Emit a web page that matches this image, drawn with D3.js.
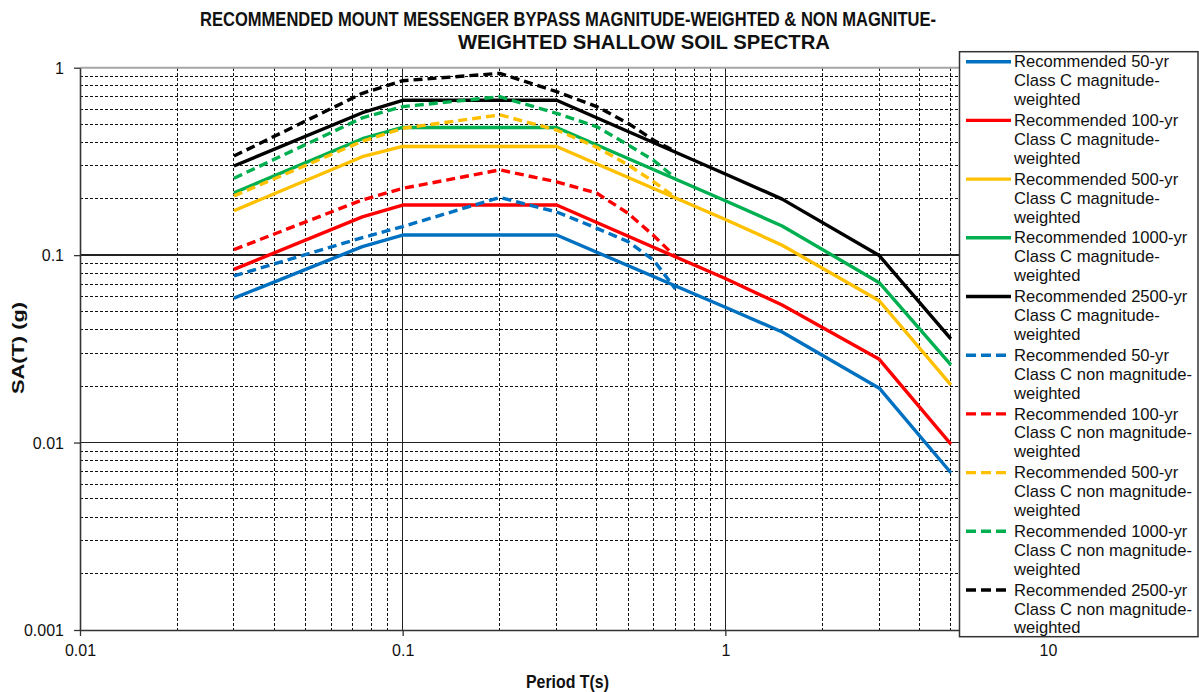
<!DOCTYPE html>
<html>
<head>
<meta charset="utf-8">
<script src="https://cdn.jsdelivr.net/npm/d3@7/dist/d3.min.js"></script>
<style>
  html, body { margin: 0; padding: 0; background: #fff; }
  svg { display: block; font-family: "Liberation Sans", Arial, sans-serif; }
</style>
</head>
<body>
<svg id="chart" width="1199" height="692"></svg>
<script>
// ---------- DATA ----------
const titleLines = ["RECOMMENDED MOUNT MESSENGER BYPASS MAGNITUDE-WEIGHTED & NON MAGNITUE-",
                    "WEIGHTED SHALLOW SOIL SPECTRA"];
const xAxisTitle = "Period T(s)";
const yAxisTitle = "SA(T)  (g)";

const xTickValues = [0.01, 0.1, 1, 10];
const xTickLabels = ["0.01", "0.1", "1", "10"];
const yTickValues = [0.001, 0.01, 0.1, 1];
const yTickLabels = ["0.001", "0.01", "0.1", "1"];

// magnitude-weighted (solid)
const periodsMW = [0.03, 0.075, 0.1, 0.3, 1, 1.5, 3, 5];
const mw50   = [0.059, 0.111, 0.128, 0.128, 0.0527, 0.0389, 0.0195, 0.0069];
const mw100  = [0.084, 0.160, 0.185, 0.185, 0.075, 0.0542, 0.0278, 0.0098];
const mw500  = [0.1726, 0.335, 0.38, 0.38, 0.155, 0.113, 0.0571, 0.0203];
const mw1000 = [0.215, 0.418, 0.48, 0.48, 0.195, 0.143, 0.0713, 0.026];
const mw2500 = [0.299, 0.575, 0.67, 0.67, 0.271, 0.199, 0.0995, 0.0357];

// non magnitude-weighted (dashed)
const periodsNMW = [0.03, 0.075, 0.1, 0.2, 0.3, 0.4, 0.5, 0.6, 0.7];
const nmw50   = [0.0774, 0.124, 0.142, 0.203, 0.17, 0.139, 0.118, 0.094, 0.066];
const nmw100  = [0.107, 0.197, 0.227, 0.285, 0.246, 0.214, 0.167, 0.127, 0.098];
const nmw500  = [0.207, 0.405, 0.475, 0.56, 0.465, 0.376, 0.303, 0.246, 0.203];
const nmw1000 = [0.257, 0.54, 0.62, 0.70, 0.571, 0.484, 0.387, 0.32, 0.258];
const nmw2500 = [0.338, 0.73, 0.852, 0.933, 0.745, 0.62, 0.505, 0.41, 0.357];

const seriesNames = [
  ["Recommended 50-yr", "Class C magnitude-", "weighted"],
  ["Recommended 100-yr", "Class C magnitude-", "weighted"],
  ["Recommended 500-yr", "Class C magnitude-", "weighted"],
  ["Recommended 1000-yr", "Class C magnitude-", "weighted"],
  ["Recommended 2500-yr", "Class C magnitude-", "weighted"],
  ["Recommended 50-yr", "Class C non magnitude-", "weighted"],
  ["Recommended 100-yr", "Class C non magnitude-", "weighted"],
  ["Recommended 500-yr", "Class C non magnitude-", "weighted"],
  ["Recommended 1000-yr", "Class C non magnitude-", "weighted"],
  ["Recommended 2500-yr", "Class C non magnitude-", "weighted"]
];
const seriesColors = ["#0070C0", "#FF0000", "#FFC000", "#00B050", "#000000",
                      "#0070C0", "#FF0000", "#FFC000", "#00B050", "#000000"];

// ---------- BUILD ----------
const series = [
  {x: periodsMW, y: mw50, dashed: false},
  {x: periodsMW, y: mw100, dashed: false},
  {x: periodsMW, y: mw500, dashed: false},
  {x: periodsMW, y: mw1000, dashed: false},
  {x: periodsMW, y: mw2500, dashed: false},
  {x: periodsNMW, y: nmw50, dashed: true},
  {x: periodsNMW, y: nmw100, dashed: true},
  {x: periodsNMW, y: nmw500, dashed: true},
  {x: periodsNMW, y: nmw1000, dashed: true},
  {x: periodsNMW, y: nmw2500, dashed: true}
].map((s, i) => ({...s, name: seriesNames[i], color: seriesColors[i]}));

const svg = d3.select("#chart");
const L = 80, R = 1048, T = 67.7, B = 630;

const x = d3.scaleLog().domain([0.01, 10]).range([L, R]);
const y = d3.scaleLog().domain([0.001, 1]).range([B, T]);

// minor values
const minorX = [], minorY = [];
[0.01, 0.1, 1].forEach(d => { for (let k = 2; k <= 9; k++) minorX.push(d * k); });
[0.001, 0.01, 0.1].forEach(d => { for (let k = 2; k <= 9; k++) minorY.push(d * k); });

const grid = svg.append("g").attr("shape-rendering", "crispEdges");
grid.selectAll(".vminor").data(minorX).join("line")
  .attr("x1", d => x(d)).attr("x2", d => x(d)).attr("y1", T).attr("y2", B)
  .attr("stroke", "#111").attr("stroke-width", 1).attr("stroke-dasharray", "3,2");
grid.selectAll(".hminor").data(minorY).join("line")
  .attr("x1", L).attr("x2", R).attr("y1", d => y(d)).attr("y2", d => y(d))
  .attr("stroke", "#111").attr("stroke-width", 1).attr("stroke-dasharray", "3,2");
grid.selectAll(".vmajor").data(xTickValues.slice(1, -1)).join("line")
  .attr("x1", d => x(d)).attr("x2", d => x(d)).attr("y1", T).attr("y2", B)
  .attr("stroke", "#222").attr("stroke-width", 1.3);
grid.selectAll(".hmajor").data(yTickValues.slice(1, -1)).join("line")
  .attr("x1", L).attr("x2", R).attr("y1", d => y(d)).attr("y2", d => y(d))
  .attr("stroke", "#222").attr("stroke-width", 1.3);

// top border
svg.append("line").attr("x1", L).attr("x2", R).attr("y1", T).attr("y2", T)
  .attr("stroke", "#a6a6a6").attr("stroke-width", 2);

// axes
const xAxis = d3.axisBottom(x).tickValues(xTickValues)
  .tickFormat((d, i) => xTickLabels[i]).tickSize(6).tickSizeOuter(0);
const yAxis = d3.axisLeft(y).tickValues(yTickValues)
  .tickFormat((d, i) => yTickLabels[i]).tickSize(6).tickSizeOuter(0);

const gx = svg.append("g").attr("transform", `translate(0,${B})`).call(xAxis);
const gy = svg.append("g").attr("transform", `translate(${L},0)`).call(yAxis);
[gx, gy].forEach(g => {
  g.select(".domain").attr("stroke", "#333").attr("stroke-width", 1.6);
  g.selectAll(".tick line").attr("stroke", "#333").attr("stroke-width", 1.3);
  g.selectAll(".tick text").attr("fill", "#111").style("font-size", "16px")
    .style("font-family", "'Liberation Sans', Arial, sans-serif");
});
gx.selectAll(".tick text").attr("dy", 0).attr("y", 26);
gy.selectAll(".tick text").attr("x", -16).attr("dy", "0.35em");

// series lines
const line = d3.line().x(d => x(d[0])).y(d => y(d[1]));
const lines = svg.append("g");
series.forEach(s => {
  lines.append("path")
    .datum(s.x.map((p, i) => [p, s.y[i]]))
    .attr("d", line)
    .attr("fill", "none")
    .attr("stroke", s.color)
    .attr("stroke-width", 3.4)
    .attr("stroke-linejoin", "round")
    .attr("stroke-dasharray", s.dashed ? "9,5" : null);
});

// title
svg.append("text").attr("x", 200).attr("y", 26).text(titleLines[0])
  .attr("textLength", 736).attr("lengthAdjust", "spacingAndGlyphs")
  .style("font-size", "20px").style("font-weight", "bold").attr("fill", "#111");
svg.append("text").attr("x", 458).attr("y", 49).text(titleLines[1])
  .attr("textLength", 372).attr("lengthAdjust", "spacingAndGlyphs")
  .style("font-size", "20px").style("font-weight", "bold").attr("fill", "#111");

// axis titles
svg.append("text").attr("x", 526).attr("y", 688).text(xAxisTitle)
  .attr("textLength", 83).attr("lengthAdjust", "spacingAndGlyphs")
  .style("font-size", "18px").style("font-weight", "bold").attr("fill", "#111");
svg.append("text").attr("transform", "translate(24,394) rotate(-90)").text(yAxisTitle)
  .attr("textLength", 92).attr("lengthAdjust", "spacingAndGlyphs")
  .style("font-size", "17px").style("font-weight", "bold").attr("fill", "#111");

// legend
const lg = svg.append("g");
const lgX = 959.5, lgY = 51.7, lgW = 238.5, lgH = 585;
lg.append("rect").attr("x", lgX).attr("y", lgY).attr("width", lgW).attr("height", lgH)
  .attr("fill", "#fff").attr("stroke", "#333").attr("stroke-width", 1.5);
const entryH = 58.7, lineH = 18.9, firstBase = 67.3;
series.forEach((s, i) => {
  const base = firstBase + i * entryH;
  lg.append("line").attr("x1", 966).attr("x2", 1011)
    .attr("y1", base - 5.6).attr("y2", base - 5.6)
    .attr("stroke", s.color).attr("stroke-width", 3.4)
    .attr("stroke-dasharray", s.dashed ? "10,5" : null);
  s.name.forEach((t, j) => {
    lg.append("text").attr("x", 1014).attr("y", base + j * lineH).text(t)
      .style("font-size", "16.6px").attr("fill", "#111");
  });
});
</script>
</body>
</html>
